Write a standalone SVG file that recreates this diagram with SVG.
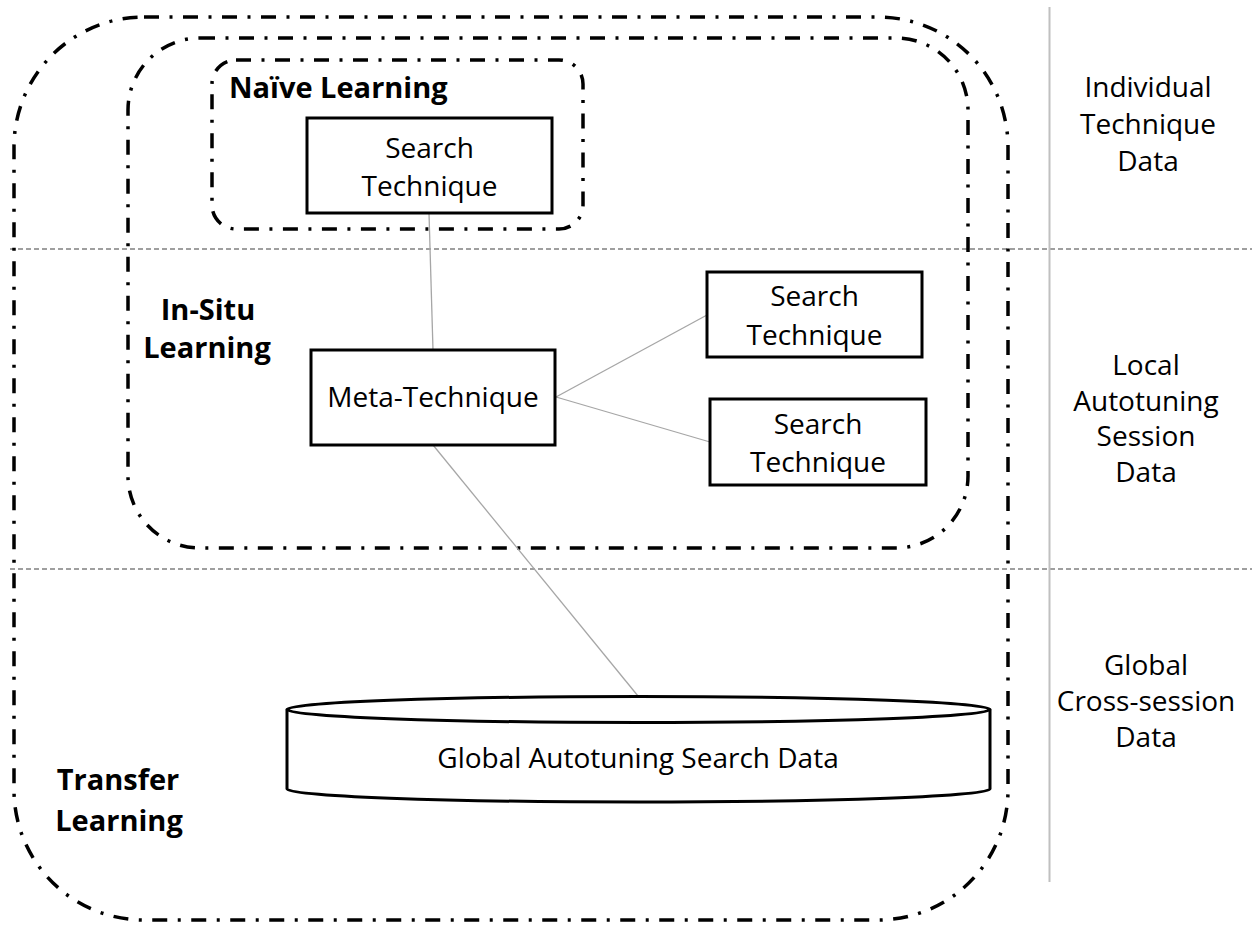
<svg xmlns="http://www.w3.org/2000/svg" width="1252" height="932" viewBox="0 0 1252 932">
<style>
  .bg { fill: #ffffff; }
  .region { fill: none; stroke: #000; stroke-width: 3.5; stroke-dasharray: 15 10.5 3 10.5; }
  .box { fill: #fff; stroke: #000; stroke-width: 3; }
  .cyl { fill: #fff; stroke: #000; stroke-width: 3; }
  .conn { stroke: #a6a6a6; stroke-width: 1.3; fill: none; }
  .sep { stroke: #404040; stroke-width: 1.2; stroke-dasharray: 5 3; fill: none; }
  .vsep { stroke: #c0c0c0; stroke-width: 2; }
  text { font-family: "Open Sans", "Liberation Sans", sans-serif; fill: #000; }
  .t { font-size: 28px; text-anchor: middle; }
  .b { font-size: 29px; font-weight: bold; }
  .bc { font-size: 29px; font-weight: bold; text-anchor: middle; }
</style>
<rect class="bg" x="0" y="0" width="1252" height="932"/>

<g id="separators">
  <line class="sep" x1="10" y1="249" x2="1252" y2="249"/>
  <line class="sep" x1="10" y1="569" x2="1252" y2="569"/>
  <line class="vsep" x1="1049.5" y1="7" x2="1049.5" y2="882"/>
</g>

<g id="transfer-learning">
  <rect class="region" x="14" y="17" width="994" height="903" rx="130" ry="130"/>
  <text class="bc" x="118" y="790">Transfer</text>
  <text class="bc" x="119" y="831">Learning</text>
</g>

<g id="in-situ-learning">
  <rect class="region" x="128" y="38" width="840" height="510" rx="72" ry="72"/>
  <text class="bc" x="208" y="320">In-Situ</text>
  <text class="bc" x="207" y="358">Learning</text>
</g>

<g id="naive-learning">
  <rect class="region" x="212" y="60" width="371" height="169" rx="24" ry="24"/>
  <text class="b" x="229" y="98">Naïve Learning</text>
</g>

<g id="connectors">
  <line class="conn" x1="429" y1="213" x2="433" y2="350"/>
  <line class="conn" x1="556" y1="397" x2="707" y2="315"/>
  <line class="conn" x1="556" y1="397" x2="710" y2="442"/>
  <line class="conn" x1="433" y1="445" x2="638" y2="696"/>
</g>

<g id="search-technique-1">
  <rect class="box" x="307" y="118" width="245" height="95"/>
  <text class="t" x="429.5" y="158">Search</text>
  <text class="t" x="429.5" y="196">Technique</text>
</g>

<g id="meta-technique">
  <rect class="box" x="311" y="350" width="244" height="95"/>
  <text class="t" x="433" y="407">Meta-Technique</text>
</g>

<g id="search-technique-2">
  <rect class="box" x="707" y="272" width="215" height="85"/>
  <text class="t" x="814.5" y="306">Search</text>
  <text class="t" x="814.5" y="345">Technique</text>
</g>

<g id="search-technique-3">
  <rect class="box" x="710" y="399" width="216" height="86"/>
  <text class="t" x="818" y="434">Search</text>
  <text class="t" x="818" y="472">Technique</text>
</g>

<g id="global-data">
  <path class="cyl" d="M287,709.5 L287,789 A351.5,13 0 0 0 990,789 L990,709.5"/>
  <ellipse class="cyl" cx="638.5" cy="709.5" rx="351.5" ry="13"/>
  <text class="t" x="638" y="768">Global Autotuning Search Data</text>
</g>

<g id="labels">
  <text class="t" x="1148" y="97">Individual</text>
  <text class="t" x="1148" y="134">Technique</text>
  <text class="t" x="1148" y="171">Data</text>
  <text class="t" x="1146" y="375">Local</text>
  <text class="t" x="1146" y="411">Autotuning</text>
  <text class="t" x="1146" y="446">Session</text>
  <text class="t" x="1146" y="482">Data</text>
  <text class="t" x="1146" y="675">Global</text>
  <text class="t" x="1146" y="711">Cross-session</text>
  <text class="t" x="1146" y="747">Data</text>
</g>
</svg>
